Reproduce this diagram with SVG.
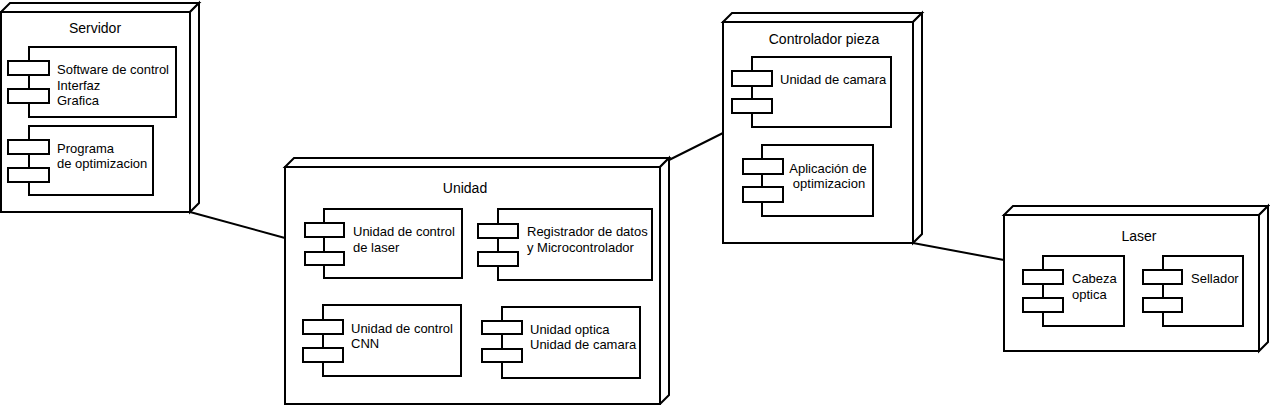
<svg xmlns="http://www.w3.org/2000/svg" width="1270" height="405" viewBox="0 0 1270 405">
<style>
.face{fill:#fff;stroke:#000;stroke-width:2;stroke-linejoin:miter}
.box{fill:#fff;stroke:#000;stroke-width:2}
.port{fill:#fff;stroke:#000;stroke-width:2}
.conn{stroke:#000;stroke-width:2;fill:none}
text{font-family:"Liberation Sans",Arial,sans-serif;font-size:13px;fill:#000}
.title{text-anchor:middle;font-size:14px}
.mid{text-anchor:middle}
</style>
<rect width="1270" height="405" fill="#fff"/>
<g id="connectors">
<line class="conn" x1="190" y1="212" x2="285" y2="238"/>
<line class="conn" x1="665" y1="162" x2="723" y2="133"/>
<line class="conn" x1="913" y1="243" x2="1004" y2="260"/>
</g>
<g id="servidor">
<polygon class="face" points="1,12 10,3 199,3 190,12"/>
<polygon class="face" points="190,12 199,3 199,203 190,212"/>
<rect class="box" x="1" y="12" width="189" height="200"/>
<text class="title" x="95" y="33">Servidor</text>
<g id="servidor-software">
<rect class="box" x="29" y="47" width="147" height="70"/>
<rect class="port" x="8" y="61" width="41" height="14"/>
<rect class="port" x="8" y="89" width="41" height="14"/>
<text x="57" y="74">Software de control</text>
<text x="57" y="90">Interfaz</text>
<text x="57" y="105">Grafica</text>
</g>
<g id="servidor-programa">
<rect class="box" x="29" y="126" width="124" height="69"/>
<rect class="port" x="8" y="140" width="41" height="14"/>
<rect class="port" x="8" y="168" width="41" height="14"/>
<text x="57" y="153">Programa</text>
<text x="57" y="168">de optimizacion</text>
</g>
</g>
<g id="unidad">
<polygon class="face" points="285,167 294,158 669,158 660,167"/>
<polygon class="face" points="660,167 669,158 669,395 660,404"/>
<rect class="box" x="285" y="167" width="375" height="237"/>
<text class="title" x="465" y="193">Unidad</text>
<g id="unidad-laser">
<rect class="box" x="324" y="209" width="138" height="69"/>
<rect class="port" x="305" y="223" width="39" height="14"/>
<rect class="port" x="305" y="252" width="39" height="13"/>
<text x="353" y="236">Unidad de control</text>
<text x="353" y="252">de laser</text>
</g>
<g id="unidad-registrador">
<rect class="box" x="498" y="209" width="154" height="71"/>
<rect class="port" x="478" y="224" width="40" height="14"/>
<rect class="port" x="478" y="252" width="40" height="14"/>
<text x="527" y="236">Registrador de datos</text>
<text x="527" y="252">y Microcontrolador</text>
</g>
<g id="unidad-cnn">
<rect class="box" x="323" y="305" width="138" height="71"/>
<rect class="port" x="303" y="320" width="40" height="14"/>
<rect class="port" x="303" y="348" width="40" height="14"/>
<text x="351" y="333">Unidad de control</text>
<text x="351" y="348">CNN</text>
</g>
<g id="unidad-optica">
<rect class="box" x="502" y="307" width="138" height="71"/>
<rect class="port" x="482" y="321" width="40" height="13"/>
<rect class="port" x="482" y="349" width="40" height="13"/>
<text x="530" y="334">Unidad optica</text>
<text x="530" y="349">Unidad de camara</text>
</g>
</g>
<g id="controlador">
<polygon class="face" points="723,22 732,13 922,13 913,22"/>
<polygon class="face" points="913,22 922,13 922,234 913,243"/>
<rect class="box" x="723" y="22" width="190" height="221"/>
<text class="title" x="824" y="44">Controlador pieza</text>
<g id="controlador-camara">
<rect class="box" x="752" y="57" width="139" height="70"/>
<rect class="port" x="732" y="71" width="40" height="15"/>
<rect class="port" x="732" y="99" width="40" height="14"/>
<text x="780" y="84">Unidad de camara</text>
</g>
<g id="controlador-aplicacion">
<rect class="box" x="762" y="145" width="111" height="71"/>
<rect class="port" x="743" y="159" width="40" height="15"/>
<rect class="port" x="743" y="187" width="40" height="15"/>
<text class="mid" x="828" y="173">Aplicación de</text>
<text class="mid" x="829" y="188">optimizacion</text>
</g>
</g>
<g id="laser">
<polygon class="face" points="1004,215 1013,206 1268,206 1259,215"/>
<polygon class="face" points="1259,215 1268,206 1268,342 1259,351"/>
<rect class="box" x="1004" y="215" width="255" height="136"/>
<text class="title" x="1139" y="241">Laser</text>
<g id="laser-cabeza">
<rect class="box" x="1043" y="256" width="81" height="70"/>
<rect class="port" x="1023" y="270" width="40" height="14"/>
<rect class="port" x="1023" y="298" width="40" height="14"/>
<text x="1072" y="283">Cabeza</text>
<text x="1072" y="299">optica</text>
</g>
<g id="laser-sellador">
<rect class="box" x="1163" y="256" width="80" height="70"/>
<rect class="port" x="1143" y="270" width="39" height="14"/>
<rect class="port" x="1143" y="298" width="39" height="14"/>
<text x="1191" y="283">Sellador</text>
</g>
</g>
</svg>
